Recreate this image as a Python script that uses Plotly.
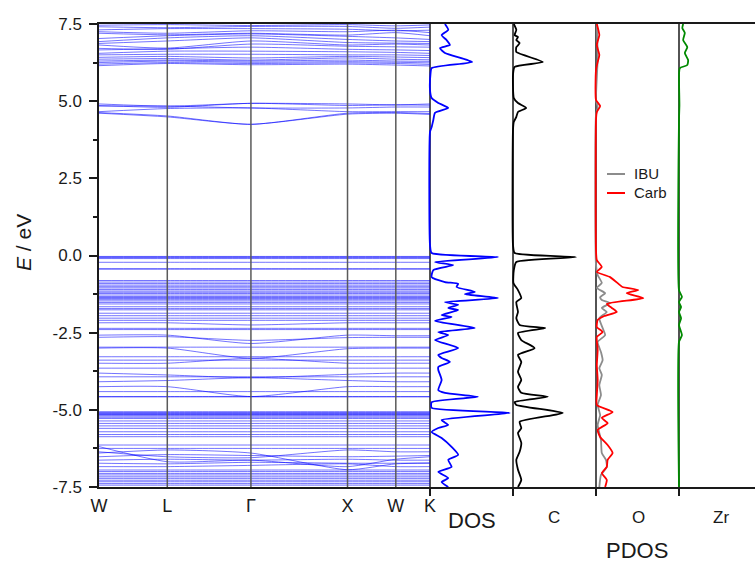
import plotly.graph_objects as go

# ---------------------------------------------------------------------------
# Band structure along the FCC path W-L-Γ-X-W-K (cumulative |k| in 2π/a)
# ---------------------------------------------------------------------------
k_labels = ["W", "L", "Γ", "X", "W", "K"]
k_points = [0.0, 0.707, 1.573, 2.573, 3.073, 3.427]

# energies (eV) at W, L, Γ, X, W, K
conduction_high = [
    [6.15, 6.22, 6.18, 6.20, 6.17, 6.14],
    [6.20, 6.25, 6.22, 6.24, 6.22, 6.19],
    [6.25, 6.30, 6.26, 6.28, 6.26, 6.24],
    [6.30, 6.33, 6.30, 6.33, 6.30, 6.29],
    [6.36, 6.38, 6.33, 6.40, 6.36, 6.34],
    [6.42, 6.45, 6.40, 6.45, 6.43, 6.41],
    [6.50, 6.52, 6.52, 6.50, 6.50, 6.48],
    [6.55, 6.62, 6.62, 6.60, 6.58, 6.55],
    [6.66, 6.70, 6.75, 6.68, 6.66, 6.64],
    [6.71, 6.68, 6.85, 6.78, 6.76, 6.75],
    [6.82, 6.72, 6.95, 6.82, 6.85, 6.82],
    [6.87, 6.95, 7.05, 6.90, 6.88, 6.87],
    [6.93, 7.05, 7.12, 7.00, 6.95, 6.93],
    [7.03, 7.12, 7.18, 7.10, 7.05, 7.00],
    [7.20, 7.15, 7.20, 7.14, 7.22, 7.12],
    [7.25, 7.20, 7.28, 7.25, 7.30, 7.22],
    [7.31, 7.35, 7.35, 7.33, 7.28, 7.30],
    [7.41, 7.38, 7.42, 7.42, 7.36, 7.40],
    [7.46, 7.48, 7.45, 7.48, 7.44, 7.47],
]

conduction_low = [
    [4.91, 4.84, 4.93, 4.91, 4.88, 4.91],
    [4.86, 4.80, 4.93, 4.86, 4.88, 4.87],
    [4.84, 4.84, 4.78, 4.78, 4.81, 4.81],
    [4.66, 4.76, 4.78, 4.66, 4.66, 4.66],
    [4.63, 4.52, 4.25, 4.61, 4.63, 4.60],
    [4.61, 4.49, 4.25, 4.58, 4.61, 4.57],
]

# nearly dispersionless valence levels (eV)
valence_flat = [
    -0.03, -0.05, -0.07, -0.10, -0.22, -0.43, -0.44,
    -0.81, -0.86, -0.91, -0.96, -1.01, -1.05, -1.10, -1.15, -1.19,
    -1.23, -1.28, -1.33, -1.36, -1.39, -1.42, -1.47, -1.52, -1.57,
    -1.66, -1.72, -1.76, -1.87, -1.95, -2.03, -2.10,
    -2.36, -2.40, -2.97, -3.28, -3.39, -3.65, -3.93, -4.41,
    -4.57, -4.58, -5.06, -5.09, -5.11, -5.13, -5.15, -5.17, -5.20,
    -5.24, -5.28, -5.36, -5.44, -5.52, -5.60, -5.71, -5.80, -5.87,
    -6.14, -6.25, -6.95, -7.00, -7.06, -7.11, -7.17, -7.22, -7.28,
    -7.33, -7.39, -7.44,
]

# valence bands with visible dispersion, energies at W, L, Γ, X, W, K
valence_dispersive = [
    [-2.18, -2.18, -2.25, -2.18, -2.18, -2.18],
    [-2.58, -2.58, -2.85, -2.58, -2.60, -2.60],
    [-2.65, -2.63, -2.75, -2.66, -2.65, -2.65],
    [-3.00, -3.00, -3.33, -3.02, -3.00, -3.00],
    [-3.49, -3.49, -3.33, -3.49, -3.49, -3.49],
    [-3.81, -3.87, -3.96, -3.85, -3.81, -3.81],
    [-4.09, -4.05, -3.96, -4.05, -4.09, -4.09],
    [-4.25, -4.25, -4.57, -4.25, -4.25, -4.25],
    [-6.19, -6.68, -6.63, -6.84, -6.60, -6.52],
    [-6.40, -6.30, -6.40, -6.94, -6.75, -6.73],
    [-6.36, -6.52, -6.55, -6.30, -6.36, -6.36],
    [-6.63, -6.60, -6.63, -6.60, -6.63, -6.63],
    [-6.84, -6.84, -6.80, -6.75, -6.84, -6.84],
    [-6.52, -6.45, -6.48, -6.52, -6.50, -6.48],
    [-6.73, -6.75, -6.70, -6.73, -6.73, -6.72],
]

# ---------------------------------------------------------------------------
# Total DOS and projected DOS (arb. units)
# ---------------------------------------------------------------------------
dos_energy = [7.50, 7.31, 7.14, 6.98, 6.82, 6.72, 6.56, 6.27, 6.07, 5.85, 5.36,
              5.10, 4.94, 4.78, 4.62, 4.39, 4.16, 4.00, 0.34, 0.08, -0.05, -0.21,
              -0.31, -0.47, -0.70, -0.86, -0.92, -1.02, -1.18, -1.25, -1.38,
              -1.51, -1.60, -1.70, -1.77, -1.93, -1.99, -2.12, -2.35, -2.48,
              -2.58, -2.74, -3.00, -3.22, -3.32, -3.45, -3.61, -3.71, -4.03,
              -4.36, -4.45, -4.58, -4.75, -4.94, -5.10, -5.33, -5.49, -5.59,
              -5.72, -5.91, -6.20, -6.46, -6.62, -6.85, -7.01, -7.21, -7.34, -7.50]
dos_total = [1.8, 2.2, 1.4, 2.0, 2.4, 1.2, 1.8, 5.1, 0.2, 0.05, 0.0,
             0.2, 1.0, 2.2, 0.6, 0.4, 0.2, 0.0, 0.0, 0.2, 8.2, 0.6,
             2.8, 0.4, 0.2, 1.8, 3.4, 3.2, 5.4, 4.2, 8.2,
             1.8, 3.4, 2.2, 3.4, 1.4, 2.6, 0.6, 5.4, 1.0,
             2.2, 0.6, 3.4, 1.0, 1.4, 2.4, 1.0, 1.0, 1.4,
             1.0, 1.8, 5.8, 0.2, 0.2, 9.6, 1.4, 2.2, 1.0,
             0.2, 1.4, 2.6, 3.4, 2.2, 2.6, 1.0, 2.2, 1.4, 2.2]

c_energy = [7.50, 7.31, 7.14, 7.08, 6.98, 6.88, 6.75, 6.59, 6.27, 6.11, 5.85,
            5.10, 4.94, 4.78, 4.65, 4.49, 4.33, 4.07, 0.34, 0.08, -0.05, -0.21,
            -0.47, -0.89, -1.12, -1.38, -1.51, -1.83, -2.03, -2.25, -2.35,
            -2.51, -2.74, -3.00, -3.22, -3.45, -3.77, -4.03, -4.26, -4.45,
            -4.58, -4.75, -4.84, -5.10, -5.39, -5.59, -5.75, -6.07, -6.36,
            -6.62, -6.94, -7.27, -7.50]
c_pdos = [0.1, 0.4, 0.2, 0.6, 0.4, 0.8, 0.4, 0.4, 3.6, 0.2, 0.0,
          0.1, 0.6, 1.6, 0.6, 0.4, 0.1, 0.0, 0.0, 0.2, 7.6, 0.4,
          0.1, 0.05, 0.6, 1.0, 0.4, 0.6, 0.4, 0.8, 3.9,
          0.6, 1.0, 2.6, 0.6, 1.0, 0.6, 1.0, 0.6, 1.0,
          4.2, 0.2, 0.4, 6.0, 0.8, 1.0, 0.6, 1.0, 0.8,
          0.4, 0.6, 1.0, 0.6]

o_carb_energy = [7.50, 7.14, 6.82, 6.50, 6.27, 6.01, 5.04, 4.84, 4.65, 4.39,
                 0.18, -0.15, -0.37, -0.53, -0.70, -0.96, -1.02, -1.12, -1.22,
                 -1.38, -1.57, -1.70, -1.83, -1.96, -2.09, -2.32, -2.48, -2.64,
                 -3.06, -3.55, -4.03, -4.52, -4.84, -5.07, -5.26, -5.43, -5.65,
                 -5.88, -6.14, -6.40, -6.62, -6.85, -7.05, -7.27, -7.50]
o_carb = [0.1, 0.4, 0.1, 0.4, 0.2, 0.0, 0.0, 0.5, 0.1, 0.0,
          0.0, 0.1, 0.7, 0.1, 1.7, 2.9, 3.2, 5.1, 3.7,
          5.7, 1.3, 1.9, 2.5, 1.0, 0.2, 0.1, 0.8, 0.1,
          0.2, 0.1, 0.2, 0.1, 0.1, 2.0, 0.7, 1.4, 0.2,
          0.5, 1.4, 2.0, 1.4, 1.3, 0.7, 1.3, 1.1]

o_ibu_energy = [7.50, 6.39, 5.04, 4.81, 4.55, -0.31, -0.63, -0.89, -1.05, -1.22,
                -1.35, -1.44, -1.54, -1.70, -1.83, -2.03, -2.35, -2.58, -2.80,
                -3.13, -3.39, -3.65, -3.87, -4.20, -4.52, -4.84, -5.17, -5.49,
                -5.98, -6.40, -6.62, -6.85, -7.11, -7.50]
o_ibu = [0.1, 0.2, 0.0, 0.2, 0.0, 0.0, 0.2, 0.7, 0.1, 1.1,
         0.5, 0.7, 1.7, 0.7, 1.3, 0.4, 0.8, 1.1, 0.2,
         0.6, 0.8, 0.4, 0.7, 0.4, 0.6, 0.2, 0.5, 0.2,
         0.6, 0.7, 1.2, 1.3, 0.6, 0.4]

zr_energy = [7.50, 7.37, 7.21, 6.98, 6.75, 6.56, 6.33, 6.17, 6.07, 5.85, 4.88,
             4.39, -1.12, -1.34, -1.51, -1.67, -1.83, -2.03, -2.25, -2.58,
             -2.80, -7.50]
zr_pdos = [0.5, 0.4, 0.7, 0.5, 1.0, 0.7, 1.1, 1.0, 0.1, 0.0, 0.05,
           0.0, 0.0, 0.35, 0.0, 0.25, 0.0, 0.25, 0.0, 0.35,
           0.0, 0.0]

y_tick_vals = [7.5, 5.0, 2.5, 0.0, -2.5, -5.0, -7.5]
y_tick_text = ["7.5", "5.0", "2.5", "0.0", "-2.5", "-5.0", "-7.5"]
y_minor_vals = [6.25, 3.75, 1.25, -1.25, -3.75, -6.25]

# ---------------------------------------------------------------------------
# Figure geometry (pixels of a 755 x 565 page)
# ---------------------------------------------------------------------------
W_PX, H_PX = 755, 565
TOP_PX, BOT_PX = 24, 487
BAND_L, BAND_R = 99, 430
PANEL_W = 83                      # width of one DOS panel in px
UNIT_PX = 8.3                     # px per DOS unit
PAD = 2                           # px left of each DOS zero line
panel_left = [430, 513, 596, 679]

def fx(px):
    return px / W_PX

def fy(px):
    return (H_PX - px) / H_PX

y_dom = [fy(BOT_PX), fy(TOP_PX)]

BAND_COLOR = "rgba(0,0,255,0.55)"
FONT = "Liberation Sans, Arial, sans-serif"
INK = "#1a1a1a"

fig = go.Figure()

band_rows = (conduction_high + conduction_low
             + [[e] * len(k_points) for e in valence_flat]
             + valence_dispersive)
for row in band_rows:
    fig.add_trace(go.Scatter(
        x=k_points, y=row, mode="lines", xaxis="x", yaxis="y",
        line=dict(color=BAND_COLOR, width=1, shape="spline", smoothing=0.6),
        hoverinfo="skip", showlegend=False))

dos_sets = [
    ("x2", dos_energy, dos_total, "#0000ff"),
    ("x3", c_energy, c_pdos, "#000000"),
    ("x4", o_ibu_energy, o_ibu, "#8c8c8c"),
    ("x4", o_carb_energy, o_carb, "#ff0000"),
    ("x5", zr_energy, zr_pdos, "#008a00"),
]
for xa, en, val, col in dos_sets:
    fig.add_trace(go.Scatter(
        x=val, y=en, mode="lines", xaxis=xa, yaxis="y",
        line=dict(color=col, width=1.8, shape="spline", smoothing=0.5),
        hoverinfo="skip", showlegend=False))

axis_common = dict(showgrid=False, zeroline=False, showline=True, mirror=True,
                   linecolor=INK, linewidth=1.5, fixedrange=True,
                   automargin=False)

layout = dict(
    template="none",
    width=W_PX, height=H_PX,
    margin=dict(l=0, r=0, t=0, b=0, pad=0, autoexpand=False),
    paper_bgcolor="white", plot_bgcolor="rgba(0,0,0,0)",
    font=dict(family=FONT, color=INK),
    showlegend=False,
    xaxis=dict(axis_common, domain=[fx(BAND_L), fx(BAND_R)],
               range=[k_points[0], k_points[-1]], anchor="y",
               tickmode="array", tickvals=k_points, ticktext=k_labels,
               ticks="", ticklabelstandoff=2,
               tickfont=dict(size=18, family=FONT, color=INK)),
    yaxis=dict(showgrid=False, zeroline=False, showline=True,
               linecolor=INK, linewidth=1.5, fixedrange=True,
               automargin=False,
               domain=y_dom, range=[-7.5, 7.5], anchor="x",
               tickmode="array", tickvals=y_tick_vals, ticktext=y_tick_text,
               ticks="outside", ticklen=8, tickwidth=1.5, tickcolor=INK,
               ticklabelstandoff=4,
               tickfont=dict(size=17, family=FONT, color=INK),
               minor=dict(tickmode="array", tickvals=y_minor_vals,
                          ticks="outside", ticklen=4, tickwidth=1.5,
                          tickcolor=INK)),
)

for i, left in enumerate(panel_left):
    name = "xaxis%d" % (i + 2)
    right_px = min(left + PANEL_W, W_PX + PAD) - PAD
    dom = [fx(left - PAD), fx(right_px)]
    width_units = (right_px - (left - PAD)) / UNIT_PX
    lo = -PAD / UNIT_PX
    layout[name] = dict(axis_common, domain=dom, range=[lo, lo + width_units],
                        anchor="y", tickmode="array", tickvals=[0],
                        ticktext=[""], ticks="outside", ticklen=7,
                        tickwidth=1.5, tickcolor=INK,
                        showticklabels=False)

fig.update_layout(**layout)

shapes = []
# high-symmetry markers inside the band panel
for kp in k_points[1:-1]:
    shapes.append(dict(type="line", xref="x", yref="paper", x0=kp, x1=kp,
                       y0=y_dom[0], y1=y_dom[1], layer="above",
                       line=dict(color="#5a5a5a", width=1.5)))
# zero lines / frame edges of the DOS panels (drawn under the curves)
for i in range(4):
    xr = "x%d" % (i + 2)
    shapes.append(dict(type="line", xref=xr, yref="paper", x0=0, x1=0,
                       y0=y_dom[0], y1=y_dom[1], layer="below",
                       line=dict(color=INK, width=1.5)))
# legend samples in the O panel
shapes.append(dict(type="line", xref="paper", yref="paper",
                   x0=fx(607), x1=fx(625), y0=fy(174), y1=fy(174),
                   line=dict(color="#8c8c8c", width=2)))
shapes.append(dict(type="line", xref="paper", yref="paper",
                   x0=fx(607), x1=fx(625), y0=fy(193), y1=fy(193),
                   line=dict(color="#ff0000", width=2)))

annotations = [
    dict(text="<i>E</i> / eV", x=fx(23), y=fy(243), textangle=-90,
         font=dict(size=21, family=FONT, color=INK)),
    dict(text="DOS", x=fx(472), y=fy(520),
         font=dict(size=22, family=FONT, color=INK)),
    dict(text="C", x=fx(554), y=fy(517),
         font=dict(size=17, family=FONT, color=INK)),
    dict(text="O", x=fx(638), y=fy(517),
         font=dict(size=17, family=FONT, color=INK)),
    dict(text="Zr", x=fx(721), y=fy(517),
         font=dict(size=17, family=FONT, color=INK)),
    dict(text="PDOS", x=fx(637), y=fy(550),
         font=dict(size=22, family=FONT, color=INK)),
    dict(text="IBU", x=fx(632), y=fy(174), xanchor="left",
         font=dict(size=15, family=FONT, color=INK)),
    dict(text="Carb", x=fx(632), y=fy(193), xanchor="left",
         font=dict(size=15, family=FONT, color=INK)),
]
for a in annotations:
    a.update(xref="paper", yref="paper", showarrow=False)
    a.setdefault("xanchor", "center")
    a.setdefault("yanchor", "middle")

fig.update_layout(shapes=shapes, annotations=annotations)

fig.write_html("out.html")
